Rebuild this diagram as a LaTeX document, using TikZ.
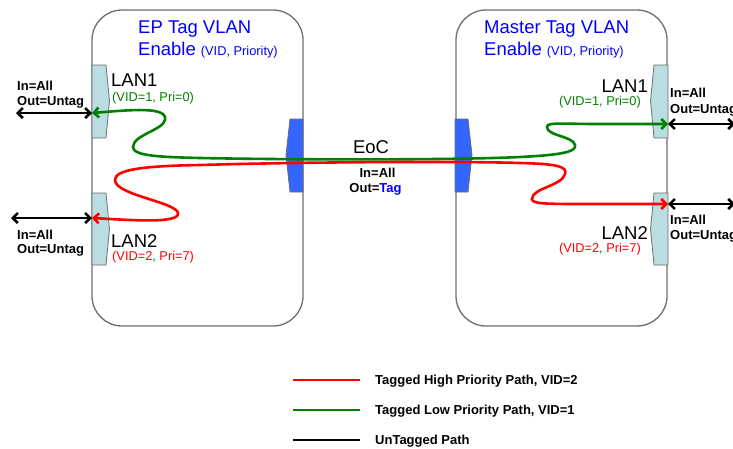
\documentclass[tikz,border=0pt]{standalone}
\usepackage{fontspec}
\setmainfont{Liberation Sans}
\usetikzlibrary{arrows.meta}
\definecolor{tagblue}{HTML}{0000FF}
\definecolor{gline}{HTML}{008000}
\definecolor{rline}{HTML}{FF0000}
\definecolor{portfill}{HTML}{B9DDE1}
\definecolor{eocfill}{HTML}{3366FF}
\definecolor{edgegray}{HTML}{6E6E6E}
\begin{document}
\begin{tikzpicture}[x=1pt,y=-1pt,
  vlanbox/.style={draw=edgegray, line width=1.3pt, fill=white, rounded corners=30pt,
    minimum width=211pt, minimum height=316pt, inner sep=0pt},
  lanport/.style={draw=edgegray, line width=0.8pt, fill=portfill},
  eocport/.style={draw=edgegray, line width=0.8pt, fill=eocfill},
  gpath/.style={draw=gline, line width=2.6pt,
    arrows={Straight Barb[length=5pt,width=10pt]-Straight Barb[length=5pt,width=10pt]}},
  rpath/.style={draw=rline, line width=2.6pt,
    arrows={Straight Barb[length=5pt,width=10pt]-Straight Barb[length=5pt,width=10pt]}},
  kpath/.style={draw=black, line width=2.6pt,
    arrows={Straight Barb[length=5pt,width=10pt]-Straight Barb[length=5pt,width=10pt]}},
  legline/.style={line width=2.6pt},
  bigtxt/.style={font=\fontsize{18.5}{20}\selectfont, inner sep=0pt},
  smalltxt/.style={font=\fontsize{12.8}{14}\selectfont, inner sep=0pt},
  lbl/.style={font=\fontsize{13}{14}\selectfont\bfseries, inner sep=0pt},
]
\useasboundingbox (0,0) rectangle (733,448);

% boxes
\node[vlanbox] (epbox) at (197.5,168) {};
\node[vlanbox] (msbox) at (561.5,168) {};

% LAN ports (left box)
\draw[lanport] (92,65) -- (106,65) -- (109.5,101) -- (106,138) -- (92,138) -- cycle;
\draw[lanport] (92,193) -- (106,193) -- (109.5,229) -- (106,265) -- (92,265) -- cycle;
% LAN ports (right box)
\draw[lanport] (668,65) -- (654,65) -- (650.5,101) -- (654,138) -- (668,138) -- cycle;
\draw[lanport] (668,193) -- (654,193) -- (650.5,229) -- (654,265) -- (668,265) -- cycle;
% EoC ports
\draw[eocport] (303,119) -- (290,119) -- (286,155) -- (290,192) -- (303,192) -- cycle;
\draw[eocport] (455,119) -- (468,119) -- (472,155) -- (468,192) -- (455,192) -- cycle;

% connection points
\coordinate (epL1) at (92,113);
\coordinate (epL2) at (92,218);
\coordinate (msL1) at (668,124);
\coordinate (msL2) at (668,204);
\coordinate (extL1) at (16,113);
\coordinate (extL2) at (11,218);
\coordinate (extR1) at (735,124);
\coordinate (extR2) at (735,204);

% green tagged low priority path
\draw[gpath] (epL1) .. controls (130,110) and (168,106) .. (165,120)
  .. controls (163,130) and (133,135) .. (133,147)
  .. controls (133,156) and (160,157) .. (200,158)
  .. controls (300,160) and (460,160) .. (520,157)
  .. controls (560,155) and (577,152) .. (575,145)
  .. controls (573,136) and (547,136) .. (547,127)
  .. controls (547,122) and (560,124) .. (600,124) -- (msL1);

% red tagged high priority path
\draw[rpath] (epL2) .. controls (130,220) and (180,224) .. (178,213)
  .. controls (176,202) and (115,195) .. (115,180)
  .. controls (115,170) and (140,166) .. (200,165)
  .. controls (300,162) and (460,161) .. (520,163)
  .. controls (560,164) and (567,167) .. (565,174)
  .. controls (562,186) and (532,188) .. (532,199)
  .. controls (532,204) and (545,204) .. (590,204) -- (msL2);

% untagged paths
\draw[kpath] (extL1) -- (epL1);
\draw[kpath] (extL2) -- (epL2);
\draw[kpath] (msL1) -- (extR1);
\draw[kpath] (msL2) -- (extR2);

% titles
\node[bigtxt, text=tagblue, anchor=base west] (ept1) at (138,33) {EP Tag VLAN};
\node[bigtxt, text=tagblue, anchor=base west] (ept2) at (138,55) {Enable {\fontsize{12.8}{14}\selectfont (VID, Priority)}};
\node[bigtxt, text=tagblue, anchor=base west] (mst1) at (484,33) {Master Tag VLAN};
\node[bigtxt, text=tagblue, anchor=base west] (mst2) at (484,55) {Enable {\fontsize{12.8}{14}\selectfont (VID, Priority)}};

% LAN labels
\node[bigtxt, anchor=base west] (epl1) at (111,86) {LAN1};
\node[smalltxt, text=gline, anchor=base west] (epl1s) at (112,101) {(VID=1, Pri=0)};
\node[bigtxt, anchor=base west] (epl2) at (111,247) {LAN2};
\node[smalltxt, text=rline, anchor=base west] (epl2s) at (112,260) {(VID=2, Pri=7)};
\node[bigtxt, anchor=base east] (msl1) at (648,92) {LAN1};
\node[smalltxt, text=gline, anchor=base east] (msl1s) at (641,105) {(VID=1, Pri=0)};
\node[bigtxt, anchor=base east] (msl2) at (648,239) {LAN2};
\node[smalltxt, text=rline, anchor=base east] (msl2s) at (641,252) {(VID=2, Pri=7)};

% In/Out labels
\node[lbl, anchor=base west] (li1) at (17,90) {In=All};
\node[lbl, anchor=base west] (lo1) at (17,105) {Out=Untag};
\node[lbl, anchor=base west] (li2) at (17,239) {In=All};
\node[lbl, anchor=base west] (lo2) at (17,253) {Out=Untag};
\node[lbl, anchor=base west] (ri1) at (670,97) {In=All};
\node[lbl, anchor=base west] (ro1) at (670,113) {Out=Untag};
\node[lbl, anchor=base west] (ri2) at (670,224) {In=All};
\node[lbl, anchor=base west] (ro2) at (670,239) {Out=Untag};

% EoC
\node[bigtxt, anchor=base] (eoc) at (371,153) {EoC};
\node[lbl, anchor=base] (eoci) at (377.5,177) {In=All};
\node[lbl, anchor=base] (eoco) at (375.5,192) {Out=\textcolor{tagblue}{Tag}};

% legend
\coordinate (lgr1) at (293,380); \coordinate (lgr2) at (360,380);
\coordinate (lgg1) at (293,410); \coordinate (lgg2) at (360,410);
\coordinate (lgk1) at (293,440); \coordinate (lgk2) at (360,440);
\draw[legline, rline] (lgr1) -- (lgr2);
\draw[legline, gline] (lgg1) -- (lgg2);
\draw[legline, black] (lgk1) -- (lgk2);
\node[lbl, anchor=base west] (lgrt) at (375,384) {Tagged High Priority Path, VID=2};
\node[lbl, anchor=base west] (lggt) at (375,414) {Tagged Low Priority Path, VID=1};
\node[lbl, anchor=base west] (lgkt) at (375,444) {UnTagged Path};
\end{tikzpicture}
\end{document}
